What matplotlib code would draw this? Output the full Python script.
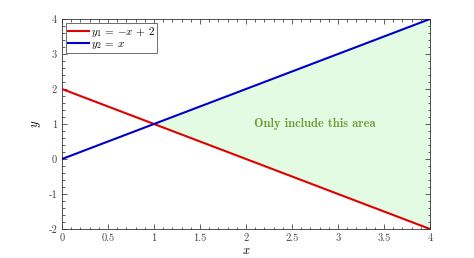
import numpy as np
import matplotlib
matplotlib.use("Agg")
import matplotlib.pyplot as plt
from matplotlib.ticker import MultipleLocator

plt.rcParams['font.family'] = 'serif'
plt.rcParams['font.serif'] = ['cmr10']
plt.rcParams['mathtext.fontset'] = 'cm'
plt.rcParams['axes.formatter.use_mathtext'] = True

x_vals = [0, 1, 2, 3, 4]
y1_vals = [2, 1, 0, -1, -2]   # y1 = -x + 2
y2_vals = [0, 1, 2, 3, 4]     # y2 = x
fill_x = [1, 2, 3, 4]
fill_lo = [1, 0, -1, -2]
fill_hi = [1, 2, 3, 4]
label_text = "Only include this area"

fig = plt.figure(figsize=(4.74, 2.58), dpi=100)
ax = fig.add_axes([0.1308, 0.1124, 0.9072 - 0.1308, 0.9264 - 0.1124])

ax.fill_between(fill_x, fill_lo, fill_hi, color='#e2fbe2', lw=0, zorder=1)
ax.plot(x_vals, y1_vals, color='#e00000', lw=1.5, label=r'$y_1$ = $-x$ + 2', zorder=3)
ax.plot(x_vals, y2_vals, color='#0000cc', lw=1.5, label=r'$y_2$ = $x$', zorder=3)

ax.text(2.75, 1, label_text, family='cmb10', color='#6f9e3c', fontsize=9,
        ha='center', va='center')

ax.set_xlim(0, 4)
ax.set_ylim(-2, 4)
ax.xaxis.set_minor_locator(MultipleLocator(0.1))
ax.yaxis.set_minor_locator(MultipleLocator(0.2))
ax.set_xticks([0, 0.5, 1, 1.5, 2, 2.5, 3, 3.5, 4])
ax.set_xticklabels(['0', '0.5', '1', '1.5', '2', '2.5', '3', '3.5', '4'])
ax.set_yticks([-2, -1, 0, 1, 2, 3, 4])
ax.set_yticklabels(['-2', '-1', '0', '1', '2', '3', '4'])
ax.tick_params(which='both', direction='in', top=True, right=True, labelsize=7.5,
               colors='#444444', width=0.6)
ax.tick_params(which='major', length=3.5)
ax.tick_params(which='minor', length=1.8)
for s in ax.spines.values():
    s.set_linewidth(0.6)
    s.set_color('#333333')

ax.set_xlabel(r'$x$', fontsize=9, labelpad=1)
ax.set_ylabel(r'$y$', fontsize=9, labelpad=4)

leg = ax.legend(loc='upper left', fontsize=8, fancybox=False, edgecolor='#555555',
                framealpha=1, borderpad=0.15, handlelength=1.9, labelspacing=0.02,
                handletextpad=0.2, borderaxespad=0.4)
leg.get_frame().set_linewidth(0.6)

fig.savefig('out.png', dpi=100)
